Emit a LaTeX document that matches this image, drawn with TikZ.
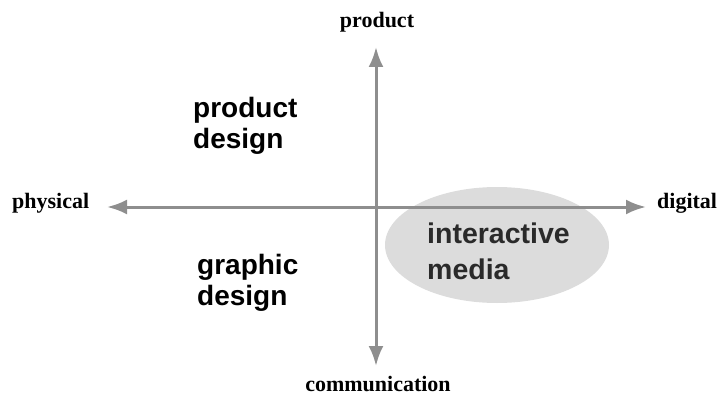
\documentclass[tikz,border=0pt]{standalone}
\usepackage{fontspec}
\setmainfont{Liberation Serif}
\newfontfamily\labsans{Liberation Sans}
\usetikzlibrary{arrows.meta,shapes.geometric}
\definecolor{axisgray}{HTML}{8E8E8E}
\definecolor{ellgray}{HTML}{DCDCDC}
\definecolor{textdark}{HTML}{2A2A2A}
\tikzset{
  axis/.style={draw=axisgray, line width=3pt, {Latex[length=20pt,width=15pt]}-{Latex[length=20pt,width=15pt]}},
  endlabel/.style={inner sep=0pt, font=\fontsize{22}{22}\selectfont\bfseries},
  fieldlabel/.style={inner sep=0pt, align=left, font=\labsans\fontsize{28}{31}\selectfont\bfseries},
}
\begin{document}
\begin{tikzpicture}[x=1pt,y=-1pt]
\useasboundingbox (0,0) rectangle (721,396);
% ellipse
\node[ellipse, fill=ellgray, minimum width=224pt, minimum height=116pt, inner sep=0pt] (ell) at (497,245) {};
% axis end points
\coordinate (L) at (107,207);
\coordinate (R) at (646,207);
\coordinate (T) at (376,47);
\coordinate (B) at (376,366);
\draw[axis] (L) -- (R);
\draw[axis] (T) -- (B);
% end labels
\node[endlabel, anchor=base] (prod) at (377,28) {product};
\node[endlabel, anchor=base west] (phys) at (12,208) {physical};
\node[endlabel, anchor=base west] (dig) at (657,208) {digital};
\node[endlabel, anchor=base] (comm) at (378,391) {communication};
% field labels (base anchor = last line)
\node[fieldlabel, anchor=base west] (pd) at (193,148) {product\\design};
\node[fieldlabel, anchor=base west] (gd) at (197,305) {graphic\\design};
\node[fieldlabel, anchor=base west, text=textdark, font=\labsans\fontsize{28.5}{36}\selectfont\bfseries] (im) at (427,279) {interactive\\media};
\end{tikzpicture}
\end{document}
